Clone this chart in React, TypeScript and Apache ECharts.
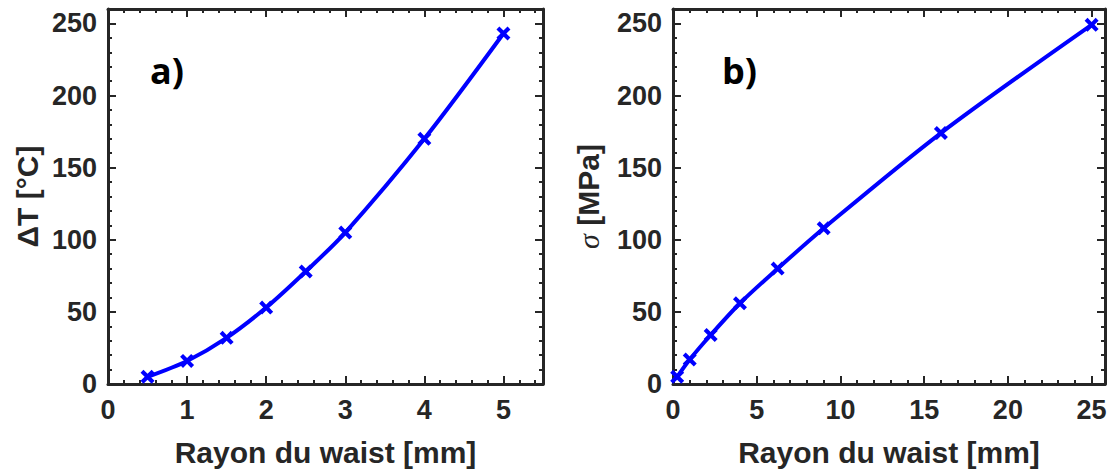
import { useEffect, useRef } from 'react';
import * as echarts from 'echarts';

const radiusA = [0.5, 1, 1.5, 2, 2.5, 3, 4, 5];
const deltaT = [5, 16, 32, 53, 78, 105, 170, 243];
const radiusB = [0.25, 1, 2.25, 4, 6.25, 9, 16, 25];
const sigma = [5, 17, 34, 56, 80, 108, 174, 249];

const xTitle = 'Rayon du waist [mm]';
const yTitleA = 'ΔT [°C]';
const yTitleB = '{s|σ} [MPa]';
const panelA = 'a)';
const panelB = 'b)';

const INK = '#262626';
const FONT = '"Liberation Sans", Arial, sans-serif';
const CROSS = 'path://M2.5,0L6,3.5L9.5,0L12,2.5L8.5,6L12,9.5L9.5,12L6,8.5L2.5,12L0,9.5L3.5,6L0,2.5Z';

function makeX(gi: number, max: number, major: number, minor: number) {
  const base = { type: 'value', gridIndex: gi, min: 0, max, splitLine: { show: false } };
  return [
    {
      ...base,
      position: 'bottom',
      interval: major,
      axisLine: { show: true, onZero: false, lineStyle: { color: INK, width: 3 } },
      axisTick: { show: true, inside: true, length: 8, lineStyle: { color: INK, width: 2 } },
      axisLabel: { show: true, showMaxLabel: false, margin: 12, fontSize: 27, fontWeight: 'bold', color: INK, fontFamily: FONT },
      name: xTitle,
      nameLocation: 'middle',
      nameGap: 53,
      nameTextStyle: { fontSize: 30, fontWeight: 'bold', color: INK, fontFamily: FONT },
    },
    {
      ...base,
      position: 'bottom',
      interval: minor,
      axisLine: { show: false, onZero: false },
      axisTick: { show: true, inside: true, length: 4, lineStyle: { color: INK, width: 2 } },
      axisLabel: { show: false },
    },
    {
      ...base,
      position: 'top',
      interval: major,
      axisLine: { show: true, onZero: false, lineStyle: { color: INK, width: 3 } },
      axisTick: { show: true, inside: true, length: 8, lineStyle: { color: INK, width: 2 } },
      axisLabel: { show: false },
    },
    {
      ...base,
      position: 'top',
      interval: minor,
      axisLine: { show: false, onZero: false },
      axisTick: { show: true, inside: true, length: 4, lineStyle: { color: INK, width: 2 } },
      axisLabel: { show: false },
    },
  ];
}

function makeY(gi: number, name: string, gap: number) {
  const base = { type: 'value', gridIndex: gi, min: 0, max: 260, splitLine: { show: false } };
  return [
    {
      ...base,
      position: 'left',
      interval: 50,
      axisLine: { show: true, onZero: false, lineStyle: { color: INK, width: 3 } },
      axisTick: { show: true, inside: true, length: 8, lineStyle: { color: INK, width: 2 } },
      axisLabel: { show: true, showMaxLabel: false, margin: 11, fontSize: 27, fontWeight: 'bold', color: INK, fontFamily: FONT },
      name,
      nameLocation: 'middle',
      nameGap: gap,
      nameTextStyle: {
        fontSize: 30,
        fontWeight: 'bold',
        color: INK,
        fontFamily: FONT,
        rich: {
          s: { fontSize: 30, fontStyle: 'italic', fontWeight: 'normal', fontFamily: '"Liberation Serif", "DejaVu Serif", serif', color: INK },
        },
      },
    },
    {
      ...base,
      position: 'left',
      interval: 10,
      axisLine: { show: false, onZero: false },
      axisTick: { show: true, inside: true, length: 4, lineStyle: { color: INK, width: 2 } },
      axisLabel: { show: false },
    },
    {
      ...base,
      position: 'right',
      interval: 50,
      axisLine: { show: true, onZero: false, lineStyle: { color: INK, width: 3 } },
      axisTick: { show: true, inside: true, length: 8, lineStyle: { color: INK, width: 2 } },
      axisLabel: { show: false },
    },
    {
      ...base,
      position: 'right',
      interval: 10,
      axisLine: { show: false, onZero: false },
      axisTick: { show: true, inside: true, length: 4, lineStyle: { color: INK, width: 2 } },
      axisLabel: { show: false },
    },
  ];
}

function lineSeries(xs: number[], ys: number[], xi: number, yi: number) {
  return {
    type: 'line',
    xAxisIndex: xi,
    yAxisIndex: yi,
    data: xs.map((x, i) => [x, ys[i]]),
    smooth: 0.3,
    symbol: CROSS,
    symbolSize: 14,
    showAllSymbol: true,
    lineStyle: { color: '#0000ff', width: 4 },
    itemStyle: { color: '#0000ff' },
    z: 5,
  };
}

export default function App() {
  const ref = useRef<HTMLDivElement>(null);
  useEffect(() => {
    if (!ref.current) return;
    const chart = echarts.init(ref.current, undefined, { renderer: 'svg' });
    chart.setOption({
      animation: false,
      backgroundColor: '#ffffff',
      grid: [
        { left: 108, top: 9, width: 435, height: 375, outerBoundsMode: 'none' },
        { left: 673, top: 9, width: 432, height: 375, outerBoundsMode: 'none' },
      ],
      xAxis: [...makeX(0, 5.5, 1, 0.2), ...makeX(1, 25.8, 5, 1)],
      yAxis: [...makeY(0, yTitleA, 66), ...makeY(1, yTitleB, 70)],
      series: [lineSeries(radiusA, deltaT, 0, 0), lineSeries(radiusB, sigma, 4, 4)],
      graphic: [
        {
          type: 'text',
          left: 150,
          top: 52,
          style: { text: panelA, fontSize: 36, fontWeight: 'bold', fill: '#000', fontFamily: '"Open Sans", "Noto Sans", sans-serif' },
        },
        {
          type: 'text',
          left: 722,
          top: 52,
          style: { text: panelB, fontSize: 36, fontWeight: 'bold', fill: '#000', fontFamily: '"Open Sans", "Noto Sans", sans-serif' },
        },
      ],
    });
    return () => chart.dispose();
  }, []);
  return <div ref={ref} style={{ position: 'fixed', left: 0, top: 0, width: 1112, height: 476 }} />;
}
